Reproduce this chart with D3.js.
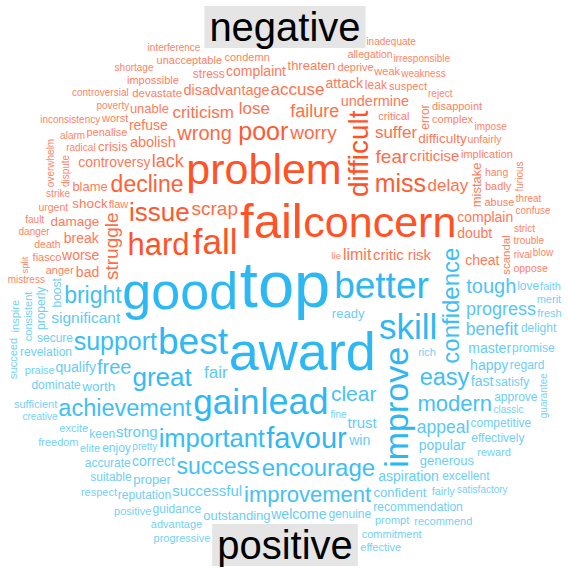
<!DOCTYPE html>
<html>
<head>
<meta charset="utf-8">
<script src="https://cdn.jsdelivr.net/npm/d3@7"></script>
<style>
  body { margin: 0; background: #fff; }
  svg { display: block; }
</style>
</head>
<body>
<svg class="chart" width="569" height="569"></svg>
<script>
// comparison cloud: negative vs positive terms
const groupLabels = ["negative", "positive"];

const negativeWords = [
  "fail","concern","problem","fall","hard","difficult","issue","miss","poor","decline",
  "wrong","scrap","worry","fear","struggle","failure","lack","lose","criticism","suffer",
  "accuse","delay","limit","critic","risk","criticise","abolish","disadvantage","undermine","controversy",
  "doubt","complain","cheat","bad","worse","break","refuse","attack","complaint","difficulty",
  "shock","damage","mistake","threaten","blame","unable","crisis","error","leak","stress",
  "scandal","devastate","critical","condemn","deprive","anger","penalise","suspect","complex","abuse",
  "implication","impossible","badly","unacceptable","weak","worst","disappoint","flaw","fiasco","hang",
  "death","allegation","oppose","urgent","unfairly","rival","strike","radical","poverty","weakness",
  "trouble","strict","reject","dispute","interference","confuse","irresponsible","controversial","inadequate","mistress",
  "danger","furious","overwhelm","inconsistency","impose","shortage","threat","alarm","blow","fault",
  "split","lie"
];
const negativeValues = [
  49,43,43,35,31,28,26,25,25,23,
  20,19,19,19,19,18,18,17,17,17,
  17,17,16,15,15,15,14.5,14.5,14.5,14,
  14,14,14,14,14,14,14,14,14,13.5,
  13.5,13.5,13,13,13,13,13,12,12,12,
  11.5,11.5,11,11,11,11,11,11,11,11,
  11,11,11,11,11,11,11,11,11,10.5,
  10.5,10.5,10.5,10.5,10.5,10,10,10,10,10,
  10,10,10,10,10,10,10,10,10,10,
  10,10,10,10,10,10,10,10,10,10,
  9.5,9.5
];

const positiveWords = [
  "top","award","good","better","best","lead","skill","gain","improve","favour",
  "great","important","support","confidence","encourage","achievement","easy","success","bright","improvement",
  "modern","clear","free","tough","progress","benefit","appeal","fair","significant","successful",
  "strong","trust","master","happy","win","correct","popular","aspiration","welcome","qualify",
  "fast","worth","outstanding","generous","ready","confident","proper","secure","boost","enjoy",
  "keen","genuine","guidance","recommendation","revelation","dominate","reputation","competitive","satisfy","accurate",
  "properly","love","promise","regard","approve","effectively","suitable","delight","excellent","rich",
  "excite","prompt","advantage","elite","praise","consistent","fairly","commitment","progressive","reward",
  "positive","sufficient","freedom","recommend","faith","effective","inspire","succeed","merit","fresh",
  "respect","classic","creative","satisfactory","fine","guarantee","pretty"
];
const positiveValues = [
  65,54,52,37,37,36,35,35,34,29,
  26,25.5,25,24,24,23.5,23.5,23,23,22,
  22,21,20,20,18,17.5,17.5,17,15.5,15,
  15,15,14,14,14,14,14,14,14,14,
  14,13.5,13,13,13,13,13,12,12,12,
  12,12,12,12,12,12,12,12,12,12,
  12,12,12,12,12,12,12,12,12,11,
  11,11,11,11,11,11,11,11,11,11,
  11,11,11,11,11,11,11,11,11,11,
  11,10,10,10,10,10,10
];

// words drawn vertically
const rotatedWords = [
  "difficult","struggle","mistake","scandal","split","dispute","error","furious","overwhelm",
  "improve","confidence","boost","consistent","properly","succeed","guarantee","inspire"
];

const W = 569, H = 569;
const cx = 285, cy = 285;
const FONT = "'Liberation Sans', Arial, Helvetica, sans-serif";

const words = negativeWords.map((w, i) => ({text: w, value: negativeValues[i], group: 0}))
  .concat(positiveWords.map((w, i) => ({text: w, value: positiveValues[i], group: 1})));
words.forEach(d => d.rotate = rotatedWords.includes(d.text));
words.sort((a, b) => b.value - a.value);

const size = d3.scaleLinear()
  .domain(d3.extent(words, d => d.value))
  .range([9.5, 65]);
const colors = [
  d3.scaleLinear().domain([10, 28]).range(["#FF8466", "#FF5326"]).clamp(true),
  d3.scaleLinear().domain([10, 28]).range(["#78D2F6", "#2DB8F3"]).clamp(true)
];

const ctx = document.createElement("canvas").getContext("2d");
function textWidth(t, fs){
  ctx.font = fs + "px " + FONT;
  return ctx.measureText(t).width;
}

function mulberry32(a){
  return function(){
    a |= 0; a = a + 0x6D2B79F5 | 0;
    let t = Math.imul(a ^ a >>> 15, 1 | a);
    t = t + Math.imul(t ^ t >>> 7, 61 | t) ^ t;
    return ((t ^ t >>> 14) >>> 0) / 4294967296;
  };
}

function hit(a, b){
  return a.x0 < b.x1 && a.x1 > b.x0 && a.y0 < b.y1 && a.y1 > b.y0;
}

const svg = d3.select(".chart");
const boxes = [];

// title boxes first, so the words keep clear of them
const titleSize = 40;
const titles = groupLabels.map((label, i) => {
  const w = textWidth(label, titleSize) + 10;
  const y = i === 0 ? 27 : 545;
  const b = {x0: cx - w / 2, x1: cx + w / 2, y0: y - 21, y1: y + 21};
  boxes.push(b);
  return {label, y, b};
});

// spiral placement, each group kept to its own half
const rng = mulberry32(11);
const pad = 0.3;
const lineH = 1.1;    // box height, in em
const base = 0.34;    // baseline offset from box centre, in em
words.forEach(d => {
  const fs = size(d.value);
  const tw = textWidth(d.text, fs);
  const bw = d.rotate ? fs * lineH : tw;
  const bh = d.rotate ? tw : fs * lineH;
  const lo = d.group === 0 ? 0 : Math.PI, hi = lo + Math.PI;
  let theta = lo + rng() * Math.PI, r = 0, last = null;
  for (let i = 0; i < 150000; i++) {
    const x = cx - r * Math.cos(theta), y = cy - r * Math.sin(theta);
    const b = {x0: x - bw / 2 - pad, x1: x + bw / 2 + pad, y0: y - bh / 2 - pad, y1: y + bh / 2 + pad};
    if (b.x0 >= 0 && b.x1 <= W && b.y0 >= 0 && b.y1 <= H) {
      if (!(last && hit(b, last))) {
        last = boxes.find(o => hit(b, o));
        if (!last) {
          boxes.push(b);
          d.x = x; d.y = y; d.fs = fs;
          break;
        }
      }
    }
    const dt = Math.min(0.1, 2 / Math.max(r, 1));
    theta += dt;
    if (theta >= hi) theta -= Math.PI;
    r += 1.1 * dt;
  }
});

svg.selectAll("text.word")
  .data(words.filter(d => d.x !== undefined))
  .enter().append("text")
  .attr("class", "word")
  .attr("transform", d => "translate(" + d.x + "," + d.y + ")" + (d.rotate ? " rotate(-90)" : ""))
  .attr("y", d => d.fs * base)
  .attr("text-anchor", "middle")
  .attr("font-family", FONT)
  .attr("font-size", d => d.fs)
  .attr("fill", d => colors[d.group](d.value))
  .text(d => d.text);

const tg = svg.selectAll("g.title").data(titles).enter().append("g").attr("class", "title");
tg.append("rect")
  .attr("x", d => d.b.x0)
  .attr("y", d => d.b.y0)
  .attr("width", d => d.b.x1 - d.b.x0)
  .attr("height", d => d.b.y1 - d.b.y0)
  .attr("fill", "#E5E5E5");
tg.append("text")
  .attr("x", cx)
  .attr("y", d => d.y + titleSize * 0.34)
  .attr("text-anchor", "middle")
  .attr("font-family", FONT)
  .attr("font-size", titleSize)
  .attr("fill", "#000")
  .text(d => d.label);
</script>
</body>
</html>
